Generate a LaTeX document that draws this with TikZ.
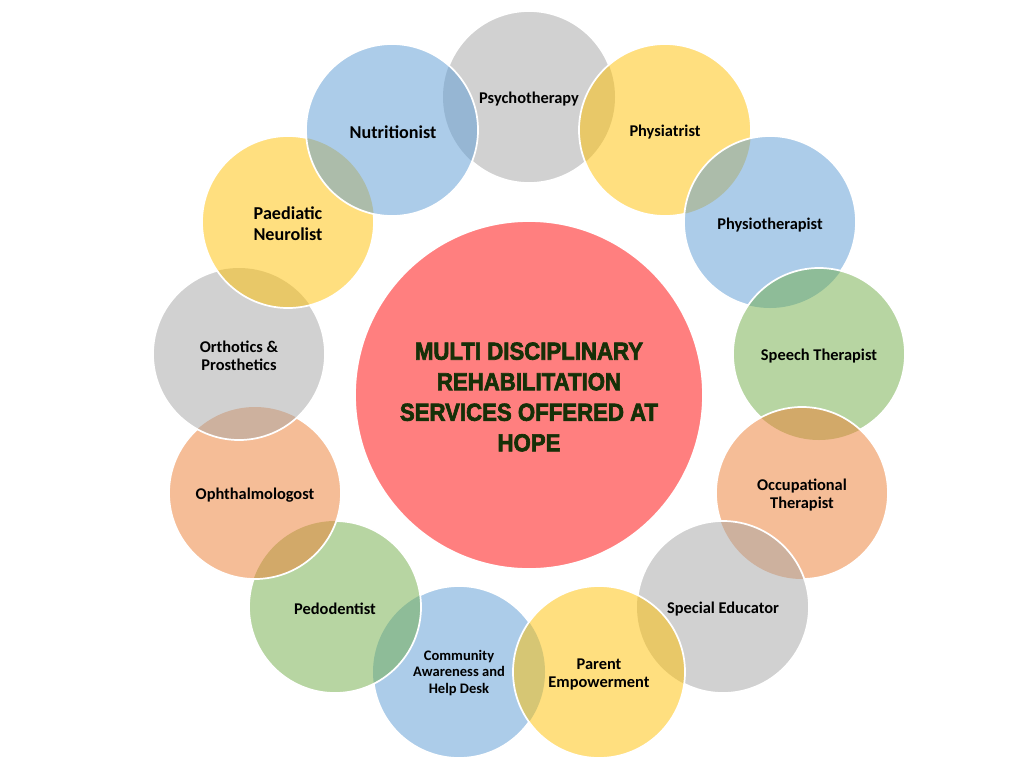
\documentclass[tikz,border=0pt]{standalone}
\usepackage{fontspec}
\setmainfont{Carlito}
\newfontfamily\heavy[UprightFont={* Bold},FakeStretch=0.9,FakeBold=2.6]{Liberation Sans}
\definecolor{cgray}{HTML}{A5A5A5}
\definecolor{cyel}{HTML}{FFC000}
\definecolor{cblue}{HTML}{5B9BD5}
\definecolor{cgreen}{HTML}{70AD47}
\definecolor{corange}{HTML}{ED7D31}
\definecolor{cred}{HTML}{FF0000}
\definecolor{ctitle}{RGB}{22,48,8}
\def\R{64.5pt}
\newcommand\bubplain[2]{%
  \fill[#2,fill opacity=0.5] (#1) circle (\R);
  \draw[edge] (#1) circle (\R);}
\newcommand\bubover[3]{%
  \begin{scope}
    \clip (#1) circle (\R);
    \fill[white] (#1) circle (\R+3pt);
    \foreach \nn/\cc in {#3}{\fill[\cc!50!white] (\nn) circle (\R);}
  \end{scope}
  \bubplain{#1}{#2}}
\begin{document}
\begin{tikzpicture}[x=0.75pt,y=-0.75pt,
  edge/.style={white,line width=1.3pt},
  lbl/.style={font=\bfseries\fontsize{12.3pt}{13.5pt}\selectfont,align=center,text=black,inner sep=0pt},
  lblbig/.style={font=\bfseries\fontsize{13.6pt}{15.7pt}\selectfont,align=center,text=black,inner sep=0pt},
  lblsmall/.style={font=\bfseries\fontsize{10.9pt}{12.4pt}\selectfont,align=center,text=black,inner sep=0pt},
  title/.style={font=\heavy\fontsize{18.5pt}{22.9pt}\selectfont,align=center,text=ctitle,inner sep=0pt}]
\useasboundingbox (0,0) rectangle (1024,768);
\fill[white] (0,0) rectangle (1024,768);

\coordinate (c0) at (529,395);
\coordinate (c1) at (529,97);
\coordinate (c2) at (665,130);
\coordinate (c3) at (770,222);
\coordinate (c4) at (819,354);
\coordinate (c5) at (802,493);
\coordinate (c6) at (723,607);
\coordinate (c7) at (599,672);
\coordinate (c8) at (459,672);
\coordinate (c9) at (335,607);
\coordinate (c10) at (255,493);
\coordinate (c11) at (239,354);
\coordinate (c12) at (288,222);
\coordinate (c13) at (392,130);

% central circle
\fill[cred,fill opacity=0.5] (c0) circle (130.5pt);
\draw[edge] (c0) circle (130.5pt);

% outer circles, in stacking order
\bubplain{c1}{cgray}
\bubplain{c8}{cblue}
\bubover{c2}{cyel}{c1/cgray}
\bubover{c3}{cblue}{c2/cyel}
\bubover{c4}{cgreen}{c3/cblue}
\bubover{c5}{corange}{c4/cgreen}
\bubover{c6}{cgray}{c5/corange}
\bubover{c7}{cyel}{c6/cgray,c8/cblue}
\bubover{c9}{cgreen}{c8/cblue}
\bubover{c10}{corange}{c9/cgreen}
\bubover{c11}{cgray}{c10/corange}
\bubover{c12}{cyel}{c11/cgray}
\bubover{c13}{cblue}{c12/cyel,c1/cgray}

% labels
\node[title] (t0) at (529,397) {MULTI DISCIPLINARY\\REHABILITATION\\SERVICES OFFERED AT\\HOPE};
\node[lbl] (t1) at (529,99) {Psychotherapy};
\node[lbl] (t2) at (665,132) {Physiatrist};
\node[lbl] (t3) at (770,225) {Physiotherapist};
\node[lbl] (t4) at (819,356) {Speech Therapist};
\node[lbl] (t5) at (802,495) {Occupational\\Therapist};
\node[lbl] (t6) at (723,609) {Special Educator};
\node[lbl] (t7) at (599,674) {Parent\\Empowerment};
\node[lblsmall] (t8) at (459,673) {Community\\Awareness and\\Help Desk};
\node[lbl] (t9) at (335,609) {Pedodentist};
\node[lbl] (t10) at (255,495) {Ophthalmologost};
\node[lbl] (t11) at (239,356) {Orthotics \&\\Prosthetics};
\node[lblbig] (t12) at (288,224) {Paediatic\\Neurolist};
\node[lblbig] (t13) at (393,132) {Nutritionist};
\end{tikzpicture}
\end{document}
